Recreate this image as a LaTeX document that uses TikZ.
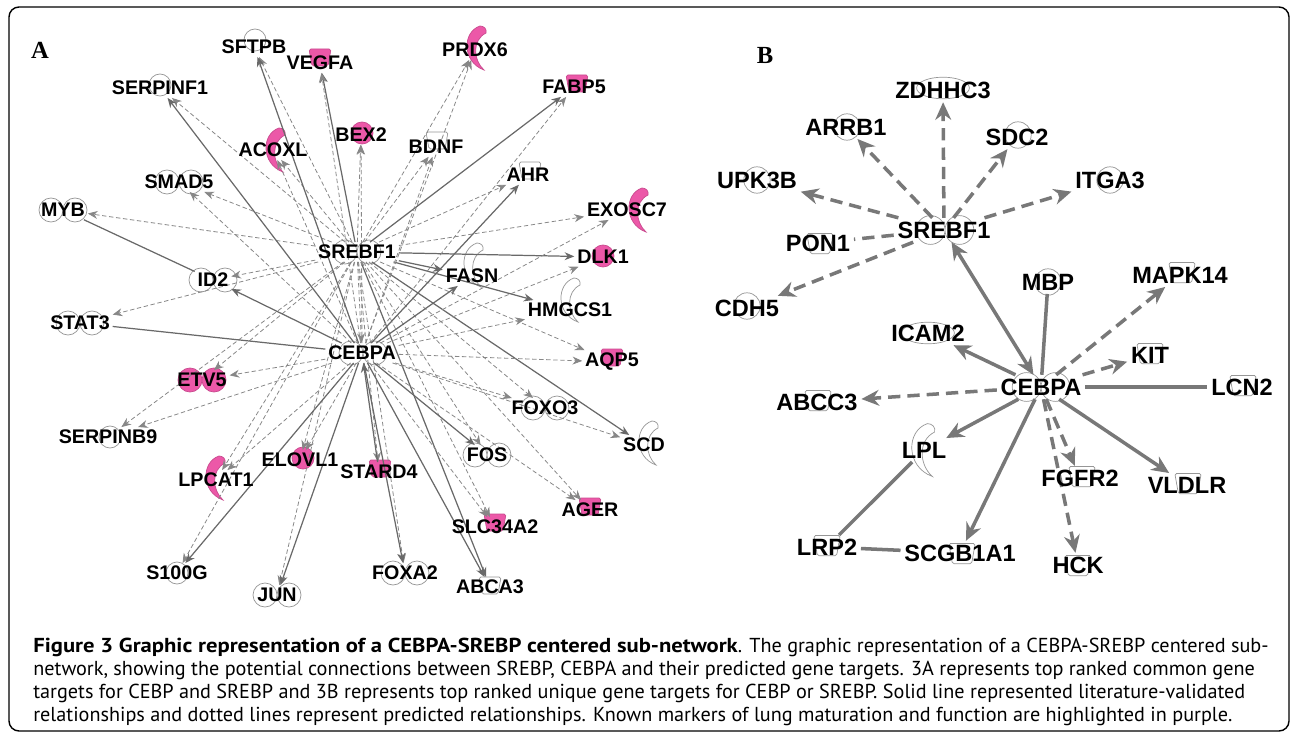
\documentclass[tikz,border=0pt]{standalone}
\usepackage{fontspec}
\setmainfont{PT Sans}[BoldFeatures={FakeStretch=1.12}]
\newfontfamily\genefont{Liberation Sans}
\newfontfamily\panelfont{Liberation Serif}
\usetikzlibrary{arrows.meta}
\definecolor{hotpink}{RGB}{236,88,168}
\definecolor{edgegray}{RGB}{105,105,105}
\definecolor{dashgray}{RGB}{135,135,135}
\definecolor{icongray}{RGB}{150,150,150}
\pgfdeclarelayer{background}
\pgfsetlayers{background,main}
\tikzset{
  gene/.style={font=\genefont\bfseries\fontsize{11.2}{12}\selectfont, inner sep=1.5pt},
  bgene/.style={font=\genefont\bfseries\fontsize{13.4}{14}\selectfont, inner sep=2pt},
  panel/.style={font=\panelfont\bfseries\fontsize{14}{15}\selectfont},
  lit/.style={-{Stealth[length=5.5pt,width=4.5pt]}, draw=edgegray, line width=0.7pt},
  pred/.style={-{Stealth[length=5.5pt,width=4.5pt]}, draw=dashgray, line width=0.45pt,
    dash pattern=on 2.5pt off 1.5pt},
  blit/.style={-{Stealth[length=10pt,width=9pt]}, draw=edgegray!90, line width=2pt},
  bpred/.style={blit, dash pattern=on 7pt off 4pt},
  icon/.style={draw=icongray, line width=0.4pt, fill=white},
  hot/.style={draw=hotpink!85!black, line width=0.4pt, fill=hotpink},
  pics/dbl/.style={code={\path[#1] (-12,0) circle[radius=12] (12,0) circle[radius=12];}},
  pics/circ/.style={code={\path[#1] (0,0) circle[radius=11];}},
  pics/oval/.style={code={\path[#1] (0,0) ellipse[x radius=22, y radius=9];}},
  pics/cup/.style={code={\path[#1, rounded corners=1pt] (-11,-8) -- (11,-8) -- (8,9) -- (-8,9) -- cycle;}},
  pics/moon/.style={code={\path[#1] (2,-22) .. controls (-16,-16) and (-16,14) .. (6,22)
    .. controls (-5,12) and (-6,-8) .. (8,-15) .. controls (9,-19) and (6,-22) .. (2,-22) -- cycle;}}
}

\begin{document}
\begin{tikzpicture}[x=0.2mm, y=-0.2mm]
  \useasboundingbox (0,0) rectangle (1292,733);
  \draw[line width=0.8pt, rounded corners=2mm] (9,7) rectangle (1289,731);
  \node[panel] (labA) at (40,50) {A};
  \node[panel] (labB) at (765,55) {B};

  % A: common targets
  \foreach \n/\x/\y in {SFTPB/254/47, VEGFA/320/63, PRDX6/475/50, FABP5/574/87,
      SERPINF1/160/88, BEX2/361/135, ACOXL/273/150, BDNF/436/147, AHR/528/175,
      SMAD5/179/182, MYB/63/210, EXOSC7/627/210, SREBF1/357/252, DLK1/603/257,
      ID2/213/280, FASN/472/276, HMGCS1/570/310, STAT3/80/323, CEBPA/362/353,
      AQP5/612/362, ETV5/202/380, FOXO3/545/408, SERPINB9/108/437, SCD/644/445,
      FOS/487/455, LPCAT1/216/480, ELOVL1/300/460, STARD4/379/472, AGER/590/510,
      SLC34A2/495/527, S100G/177/573, JUN/277/595, FOXA2/405/573, ABCA3/490/587}
    \node[gene] (\n) at (\x,\y) {\n};

  % B: unique targets
  \node[bgene] (srebfB) at (944,230) {SREBF1};
  \node[bgene] (cebpaB) at (1041,387) {CEBPA};
  \foreach \n/\x/\y in {ZDHHC3/943/90, ARRB1/846/127, SDC2/1017/137, UPK3B/757/180,
      ITGA3/1110/180, PON1/818/243, CDH5/747/308, MBP/1048/282, MAPK14/1180/275,
      ICAM2/928/333, KIT/1150/355, LCN2/1242/387, ABCC3/817/402, LPL/924/450,
      FGFR2/1080/478, VLDLR/1187/485, LRP2/827/547, SCGB1A1/960/553, HCK/1078/565}
    \node[bgene] (\n) at (\x,\y) {\n};

  \begin{pgfonlayer}{background}
    % icons
    \foreach \ic/\st/\x/\y in {dbl/icon/179/182, dbl/icon/63/210, dbl/icon/357/252,
        dbl/icon/213/280, dbl/icon/80/323, dbl/icon/363/353, dbl/icon/545/408,
        dbl/icon/487/455, dbl/icon/277/595, dbl/icon/405/573, dbl/hot/202/380,
        circ/icon/255/40, circ/icon/160/85, circ/icon/110/437, circ/icon/177/573,
        circ/hot/362/133, circ/hot/603/256, circ/hot/303/458,
        moon/hot/478/48, moon/hot/277/150, moon/hot/640/210, moon/hot/217/478,
        moon/icon/475/265, moon/icon/572/300, moon/icon/650/443,
        cup/hot/320/57, cup/hot/577/83, cup/hot/612/357, cup/hot/380/468,
        cup/hot/495/522, cup/hot/590/506,
        cup/icon/437/140, cup/icon/530/170, cup/icon/490/585}
      \pic at (\x,\y) {\ic=\st};
    \foreach \ic/\x/\y in {oval/943/88, oval/928/333, circ/847/127, circ/1018/135,
        circ/757/180, circ/1110/180, circ/747/306, circ/1048/282, dbl/945/230,
        dbl/1041/387, cup/820/243, cup/1182/272, cup/1150/353, cup/1243/385,
        cup/818/400, cup/1082/476, cup/1188/483, cup/827/545, cup/962/553,
        cup/1078/565, moon/925/450}
      \pic[scale=1.2] at (\x,\y) {\ic=icon};

    % A connectors
    \foreach \t in {SFTPB,SERPINF1,ACOXL,SMAD5,MYB,ID2,STAT3,ETV5,SERPINB9,LPCAT1,
        S100G,ELOVL1,JUN,STARD4,FOXA2,SLC34A2,FOS,AGER,FOXO3,AQP5,EXOSC7,AHR,
        BDNF,PRDX6,BEX2,CEBPA}
      \draw[pred] (SREBF1) -- (\t);
    \foreach \t in {VEGFA,FABP5,DLK1,FASN,HMGCS1,SCD,ABCA3}
      \draw[lit] (SREBF1) -- (\t);
    \foreach \t in {SFTPB,SERPINF1,ID2,S100G,JUN,FOXA2,ABCA3,FOS,FASN,AHR}
      \draw[lit] (CEBPA) -- (\t);
    \foreach \t in {VEGFA,ACOXL,SMAD5,ETV5,SERPINB9,LPCAT1,ELOVL1,SLC34A2,AGER,
        FOXO3,AQP5,EXOSC7,FABP5,BDNF,PRDX6,BEX2,DLK1,HMGCS1,SCD}
      \draw[pred] (CEBPA) -- (\t);
    \draw[lit, -] (MYB) -- (ID2);
    \draw[lit, -] (STAT3) -- (CEBPA);
    \draw[lit] (STARD4) -- (CEBPA);

    % B connectors
    \foreach \t in {ZDHHC3,ARRB1,SDC2,UPK3B,ITGA3,CDH5}
      \draw[bpred] (srebfB) -- (\t);
    \draw[bpred, -] (srebfB) -- (PON1);
    \draw[blit, {Stealth[length=10pt,width=9pt]}-{Stealth[length=10pt,width=9pt]}] (cebpaB) -- (srebfB);
    \foreach \t in {MAPK14,KIT,ABCC3,FGFR2,HCK}
      \draw[bpred] (cebpaB) -- (\t);
    \foreach \t in {ICAM2,LPL,VLDLR,SCGB1A1}
      \draw[blit] (cebpaB) -- (\t);
    \foreach \t in {MBP,LCN2}
      \draw[blit, -] (cebpaB) -- (\t);
    \draw[blit, -] (LPL) -- (LRP2);
    \draw[blit, -] (LRP2) -- (SCGB1A1);
  \end{pgfonlayer}

  % caption
  \node[anchor=north west, align=left, inner sep=0pt, font=\fontsize{11.5}{13.1}\selectfont] (caption) at (33,638)
    {\textbf{Figure 3 Graphic representation of a CEBPA-SREBP centered sub-network}. The graphic representation of a CEBPA-SREBP centered sub-\\
     network, showing the potential connections between SREBP, CEBPA and their predicted gene targets. 3A represents top ranked common gene\\
     targets for CEBP and SREBP and 3B represents top ranked unique gene targets for CEBP or SREBP. Solid line represented literature-validated\\
     relationships and dotted lines represent predicted relationships. Known markers of lung maturation and function are highlighted in purple.};
\end{tikzpicture}
\end{document}
